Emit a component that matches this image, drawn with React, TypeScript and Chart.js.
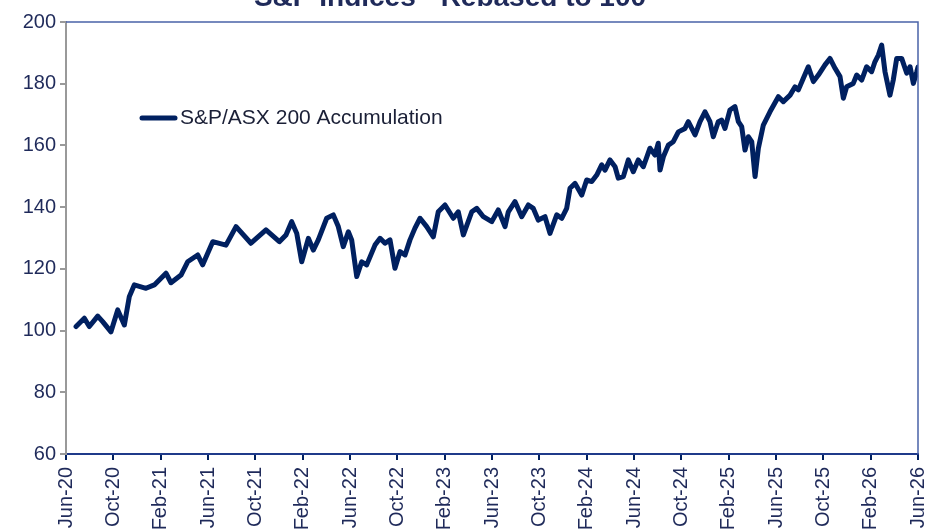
import React, { useEffect, useRef } from "react";
import { Chart, registerables } from "chart.js";

Chart.register(...registerables);

const TITLE = "S&P Indices - Rebased to 100";
const SERIES_NAME = "S&P/ASX 200 Accumulation";

// x tick labels every 4 months starting Jun-20 (month offset 0) up to Jun-26 (72)
const tickLabels = [
  "Jun-20", "Oct-20", "Feb-21", "Jun-21", "Oct-21", "Feb-22", "Jun-22",
  "Oct-22", "Feb-23", "Jun-23", "Oct-23", "Feb-24", "Jun-24", "Oct-24",
  "Feb-25", "Jun-25", "Oct-25", "Feb-26", "Jun-26",
];

// months since Jun-20
const months = [
  0.85, 1.55, 1.97, 2.68, 3.1, 3.8, 4.37, 4.93, 5.35, 5.77, 6.76, 7.46, 8.45, 8.87,
  9.72, 10.28, 11.13, 11.55, 12.4, 13.52, 14.37, 15.63, 16.9, 18.03, 18.59, 19.07,
  19.5, 19.92, 20.48, 20.9, 21.32, 22.03, 22.59, 23.01, 23.43, 23.86, 24.14, 24.57,
  24.99, 25.41, 26.11, 26.54, 26.96, 27.38, 27.8, 28.23, 28.65, 29.07, 29.49, 29.92,
  30.48, 31.04, 31.46, 32.03, 32.73, 33.15, 33.58, 34.29, 34.71, 35.27, 35.98, 36.53,
  37.1, 37.38, 37.94, 38.51, 39.07, 39.49, 39.91, 40.48, 40.9, 41.47, 41.89, 42.31,
  42.59, 43.02, 43.58, 44.0, 44.43, 44.85, 45.27, 45.55, 45.97, 46.4, 46.67, 47.1,
  47.52, 47.94, 48.36, 48.79, 49.35, 49.77, 50.05, 50.2, 50.48, 50.9, 51.32, 51.75,
  52.31, 52.59, 53.16, 53.58, 54.0, 54.42, 54.7, 55.12, 55.41, 55.69, 56.11, 56.53,
  56.82, 57.1, 57.38, 57.66, 57.95, 58.23, 58.51, 58.93, 59.49, 60.2, 60.62, 61.19,
  61.61, 61.89, 62.31, 62.73, 63.16, 63.58, 64.14, 64.56, 64.99, 65.41, 65.69, 65.97,
  66.53, 66.82, 67.24, 67.66, 68.08, 68.36, 68.65, 68.93, 69.21, 69.63, 69.91, 70.2,
  70.62, 71.05, 71.33, 71.61, 71.9, 72.0,
];

const asx200 = [
  101.3, 104.0, 101.3, 104.7, 102.9, 99.6, 106.7, 101.8, 111.0, 114.8, 113.7, 114.8, 118.6, 115.5,
  118.0, 122.3, 124.5, 121.3, 128.8, 127.7, 133.7, 128.3, 132.6, 128.8, 131.0, 135.3,
  131.5, 122.3, 129.9, 126.1, 129.4, 136.4, 137.5, 133.7, 127.2, 132.0, 129.4, 117.5,
  122.3, 121.3, 127.7, 129.9, 128.3, 129.4, 120.2, 125.6, 124.5, 129.4, 133.2, 136.4,
  133.7, 130.4, 138.5, 140.7, 136.4, 138.5, 131.0, 138.5, 139.6, 136.9, 135.3, 139.1,
  133.7, 138.5, 141.8, 136.9, 140.7, 139.6, 135.8, 136.9, 131.5, 137.5, 136.4, 139.6,
  146.1, 147.7, 143.9, 148.8, 148.3, 150.4, 153.7, 152.0, 155.3, 153.1, 149.4, 149.9,
  155.3, 151.5, 155.3, 153.1, 159.1, 156.9, 160.7, 152.0, 156.3, 160.1, 161.2, 164.4,
  165.5, 167.7, 163.4, 167.7, 170.9, 167.7, 162.8, 167.7, 168.2, 165.5, 171.5, 172.6,
  167.7, 166.1, 158.5, 162.8, 161.2, 149.9, 159.1, 166.6, 170.9, 175.8, 174.2, 176.3,
  179.0, 178.0, 181.8, 185.5, 180.7, 182.8, 186.1, 188.2, 185.0, 182.3, 175.3, 179.0,
  180.1, 182.8, 181.2, 185.5, 183.9, 187.1, 189.3, 192.5, 183.9, 176.3, 181.2, 188.2,
  188.2, 183.4, 185.5, 180.1, 183.9, 185.4,
];

const NAVY = "#002060";
const TEXT = "#1F2A5A";
const FONT = "'Liberation Sans', Arial, sans-serif";

const framePlugin = {
  id: "frame",
  afterDraw(chart: any) {
    const { ctx, chartArea } = chart;
    const { left, right, top, bottom } = chartArea;
    ctx.save();
    // top & right borders
    ctx.strokeStyle = "#4A63A8";
    ctx.lineWidth = 1.5;
    ctx.beginPath();
    ctx.moveTo(left, top);
    ctx.lineTo(right, top);
    ctx.lineTo(right, bottom);
    ctx.stroke();
    // title (cut off at the top)
    ctx.fillStyle = TEXT;
    ctx.font = `bold 28px ${FONT}`;
    ctx.textAlign = "center";
    ctx.textBaseline = "alphabetic";
    ctx.fillText(TITLE, 450, 6);
    // legend
    ctx.strokeStyle = NAVY;
    ctx.lineWidth = 5;
    ctx.lineCap = "round";
    ctx.beginPath();
    ctx.moveTo(142, 118);
    ctx.lineTo(175, 118);
    ctx.stroke();
    ctx.fillStyle = "#1a1f36";
    ctx.font = `21px ${FONT}`;
    ctx.textAlign = "left";
    ctx.textBaseline = "middle";
    ctx.fillText(SERIES_NAME, 180, 118);
    ctx.restore();
  },
};

export default function App() {
  const ref = useRef<HTMLCanvasElement | null>(null);

  useEffect(() => {
    document.body.style.margin = "0";
    if (!ref.current) return;
    const chart = new Chart(ref.current, {
      type: "line",
      data: {
        datasets: [
          {
            label: SERIES_NAME,
            data: months.map((m, i) => ({ x: m, y: asx200[i] })),
            borderColor: NAVY,
            backgroundColor: NAVY,
            borderWidth: 5,
            pointRadius: 0,
            tension: 0,
            borderJoinStyle: "round",
            borderCapStyle: "round",
          },
        ],
      },
      options: {
        animation: false,
        responsive: false,
        maintainAspectRatio: false,
        layout: { padding: { top: 22, right: 10, left: 0, bottom: 0 } },
        plugins: {
          legend: { display: false },
          title: { display: false },
          tooltip: { enabled: false },
        },
        scales: {
          x: {
            type: "linear",
            min: 0,
            max: 72,
            afterFit: (s: any) => {
              s.height = 77;
              s.paddingLeft = 0;
              s.paddingRight = 0;
            },
            ticks: {
              stepSize: 4,
              autoSkip: false,
              minRotation: 90,
              maxRotation: 90,
              padding: 7,
              color: TEXT,
              font: { family: FONT, size: 20 },
              callback: (v: any) => tickLabels[Math.round(Number(v) / 4)] ?? "",
            },
            grid: {
              drawOnChartArea: false,
              drawTicks: true,
              tickLength: 6,
              color: NAVY,
              lineWidth: 2,
            },
            border: { display: true, color: "#1F3A8A", width: 2 },
          },
          y: {
            min: 60,
            max: 200,
            afterFit: (s: any) => {
              s.width = 66;
              s.paddingTop = 0;
              s.paddingBottom = 0;
            },
            ticks: {
              stepSize: 20,
              padding: 4,
              color: TEXT,
              font: { family: FONT, size: 20 },
            },
            grid: {
              drawOnChartArea: false,
              drawTicks: true,
              tickLength: 6,
              color: "#999999",
              lineWidth: 2,
            },
            border: { display: true, color: "#999999", width: 2 },
          },
        },
      },
      plugins: [framePlugin],
    });
    return () => chart.destroy();
  }, []);

  return (
    <div style={{ position: "absolute", left: 0, top: 0, width: 928, height: 531, background: "#fff" }}>
      <canvas ref={ref} width={928} height={531} style={{ display: "block", width: 928, height: 531 }} />
    </div>
  );
}
